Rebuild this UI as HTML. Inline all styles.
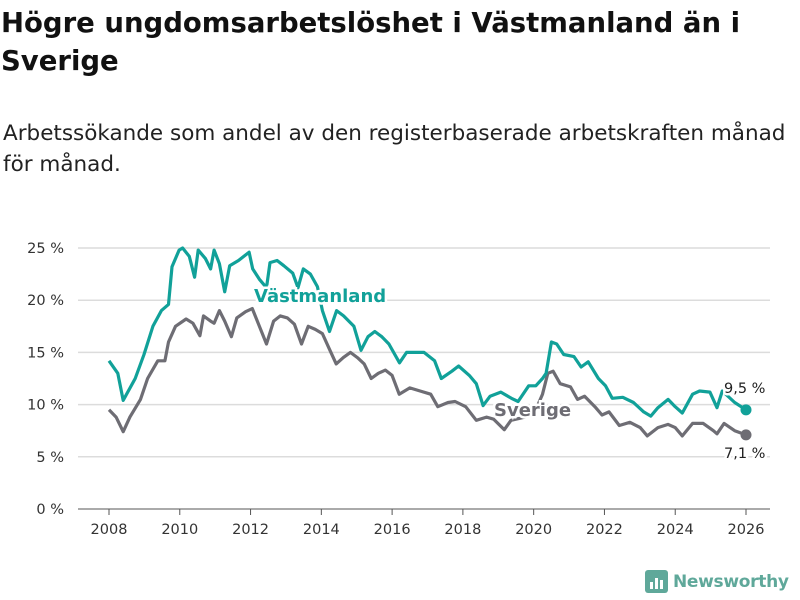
<!DOCTYPE html>
<html><head><meta charset="utf-8">
<style>
body{margin:0;width:800px;height:600px;background:#fff;font-family:"DejaVu Sans","Liberation Sans",sans-serif;overflow:hidden;position:relative}
h1{position:absolute;left:1px;top:4px;margin:0;font-size:27.5px;line-height:38px;font-weight:bold;color:#111;width:790px;letter-spacing:0px}
p.sub{position:absolute;left:3px;top:118px;margin:0;font-size:21.5px;line-height:31px;color:#222;width:800px;white-space:nowrap;letter-spacing:0px}
svg{position:absolute;left:0;top:0}
</style></head><body>
<h1>Högre ungdomsarbetslöshet i Västmanland än i Sverige</h1>
<p class="sub">Arbetssökande som andel av den registerbaserade arbetskraften månad<br>för månad.</p>
<svg id="chart" width="800" height="600"></svg>
<script>
const yTicks=[0,5,10,15,20,25];
const xTicks=[2008,2010,2012,2014,2016,2018,2020,2022,2024,2026];
const vastDates=[2008.0,2008.25,2008.4,2008.74,2008.99,2009.24,2009.48,2009.68,2009.78,2009.98,2010.08,2010.27,2010.42,2010.52,2010.72,2010.87,2010.97,2011.12,2011.27,2011.41,2011.66,2011.96,2012.06,2012.25,2012.45,2012.55,2012.75,2012.94,2013.19,2013.34,2013.49,2013.69,2013.89,2014.03,2014.23,2014.43,2014.63,2014.92,2015.12,2015.32,2015.51,2015.71,2015.91,2016.21,2016.41,2016.7,2016.9,2017.2,2017.39,2017.69,2017.88,2018.18,2018.38,2018.57,2018.77,2019.07,2019.37,2019.56,2019.86,2020.06,2020.25,2020.35,2020.5,2020.65,2020.85,2021.14,2021.34,2021.54,2021.83,2022.03,2022.22,2022.52,2022.82,2023.11,2023.31,2023.51,2023.8,2024.0,2024.2,2024.49,2024.69,2024.98,2025.18,2025.33,2025.68,2026.0];
const vastValues=[14.2,13.0,10.4,12.5,14.8,17.5,19.0,19.6,23.2,24.8,25.0,24.2,22.2,24.8,24.0,23.0,24.8,23.5,20.8,23.3,23.8,24.6,23.0,22.0,21.2,23.6,23.8,23.3,22.6,21.2,23.0,22.5,21.3,19.0,17.0,19.0,18.5,17.5,15.2,16.5,17.0,16.5,15.8,14.0,15.0,15.0,15.0,14.2,12.5,13.2,13.7,12.8,12.0,9.9,10.8,11.2,10.6,10.3,11.8,11.8,12.5,13.0,16.0,15.8,14.8,14.6,13.6,14.1,12.5,11.8,10.6,10.7,10.2,9.3,8.9,9.7,10.5,9.8,9.2,11.0,11.3,11.2,9.7,11.3,10.2,9.5];
const sveDates=[2008.0,2008.2,2008.4,2008.59,2008.89,2009.09,2009.38,2009.58,2009.68,2009.88,2010.18,2010.37,2010.57,2010.67,2010.87,2010.97,2011.12,2011.27,2011.46,2011.61,2011.86,2012.05,2012.25,2012.45,2012.65,2012.84,2013.04,2013.24,2013.44,2013.63,2013.83,2014.03,2014.23,2014.42,2014.62,2014.82,2015.02,2015.21,2015.41,2015.61,2015.81,2016.0,2016.2,2016.5,2016.79,2017.09,2017.29,2017.58,2017.78,2018.08,2018.38,2018.67,2018.87,2019.17,2019.36,2019.76,2020.06,2020.25,2020.4,2020.55,2020.75,2021.04,2021.24,2021.44,2021.73,2021.93,2022.13,2022.42,2022.72,2023.01,2023.21,2023.51,2023.8,2024.0,2024.2,2024.49,2024.79,2025.08,2025.18,2025.38,2025.68,2026.0];
const sveValues=[9.5,8.8,7.4,8.8,10.5,12.5,14.2,14.2,16.0,17.5,18.2,17.8,16.6,18.5,18.0,17.8,19.0,18.0,16.5,18.3,18.9,19.2,17.5,15.8,18.0,18.5,18.3,17.7,15.8,17.5,17.2,16.8,15.3,13.9,14.5,15.0,14.5,13.9,12.5,13.0,13.3,12.8,11.0,11.6,11.3,11.0,9.8,10.2,10.3,9.8,8.5,8.8,8.6,7.6,8.5,8.8,9.5,11.0,13.0,13.2,12.0,11.7,10.5,10.8,9.8,9.0,9.3,8.0,8.3,7.8,7.0,7.8,8.1,7.8,7.0,8.2,8.2,7.5,7.2,8.2,7.5,7.1];
const NS="http://www.w3.org/2000/svg";
const svg=document.getElementById('chart');
const X=d=>109+(d-2008)*(746-109)/18;
const Y=v=>509-v*(509-248)/25;
function el(t,a,txt){const e=document.createElementNS(NS,t);for(const k in a)e.setAttribute(k,a[k]);if(txt!=null)e.textContent=txt;svg.appendChild(e);return e;}
yTicks.forEach(v=>{
  const g=el('line',{x1:78,x2:770,y1:Y(v),y2:Y(v),stroke:v===0?'#555':'#dcdcdc','stroke-width':v===0?1:1.5});
  
  
  const t=el('text',{x:64,y:Y(v)+5,'text-anchor':'end','font-size':14.5,fill:'#333'},v+' %');
  
  
});
xTicks.forEach(d=>{
  const l=el('line',{x1:X(d),x2:X(d),y1:509,y2:515,stroke:'#555'});
  
  
  const t=el('text',{x:X(d),y:534,'text-anchor':'middle','font-size':14.5,fill:'#333'},d);
  
  
});
function line(dates,vals,color,name){
  const p=el('path',{d:dates.map((d,i)=>(i?'L':'M')+X(d).toFixed(1)+','+Y(vals[i]).toFixed(1)).join(''),fill:'none',stroke:color,'stroke-width':3.2,'stroke-linejoin':'round'});
  
  
  const n=dates.length-1;
  const c=el('circle',{cx:X(dates[n]),cy:Y(vals[n]),r:5.5,fill:color});
  
  
}
line(sveDates,sveValues,'#6e6d74','sverige');
line(vastDates,vastValues,'#11a199','vastmanland');
function lab(x,y,txt,color,name,size,w){
  const t=el('text',{x:x,y:y,'font-size':size,'font-weight':w,fill:color,stroke:'#fff','stroke-width':5,'paint-order':'stroke'},txt);
  
  
}
lab(254,302,'Västmanland','#11a199','vastmanland-label',18,'bold');
lab(494,416,'Sverige','#6e6d74','sverige-label',18,'bold');
lab(724,393,'9,5 %','#222','vastmanland-end-value',14.5,'normal');
lab(724,458,'7,1 %','#222','sverige-end-value',14.5,'normal');
</script>
<div style="position:absolute;left:645px;top:570px;display:flex;align-items:center;gap:5px">
<svg width="23" height="23" style="position:static"><rect x="0" y="0" width="23" height="23" rx="3" fill="#5fa89a"/><rect x="5" y="12" width="3" height="7" fill="#fff"/><rect x="10" y="8" width="3" height="11" fill="#fff"/><rect x="15" y="10" width="3" height="9" fill="#fff"/></svg>
<span style="font-size:17px;font-weight:bold;color:#5fa89a;letter-spacing:-0.3px">Newsworthy</span></div>
</body></html>
